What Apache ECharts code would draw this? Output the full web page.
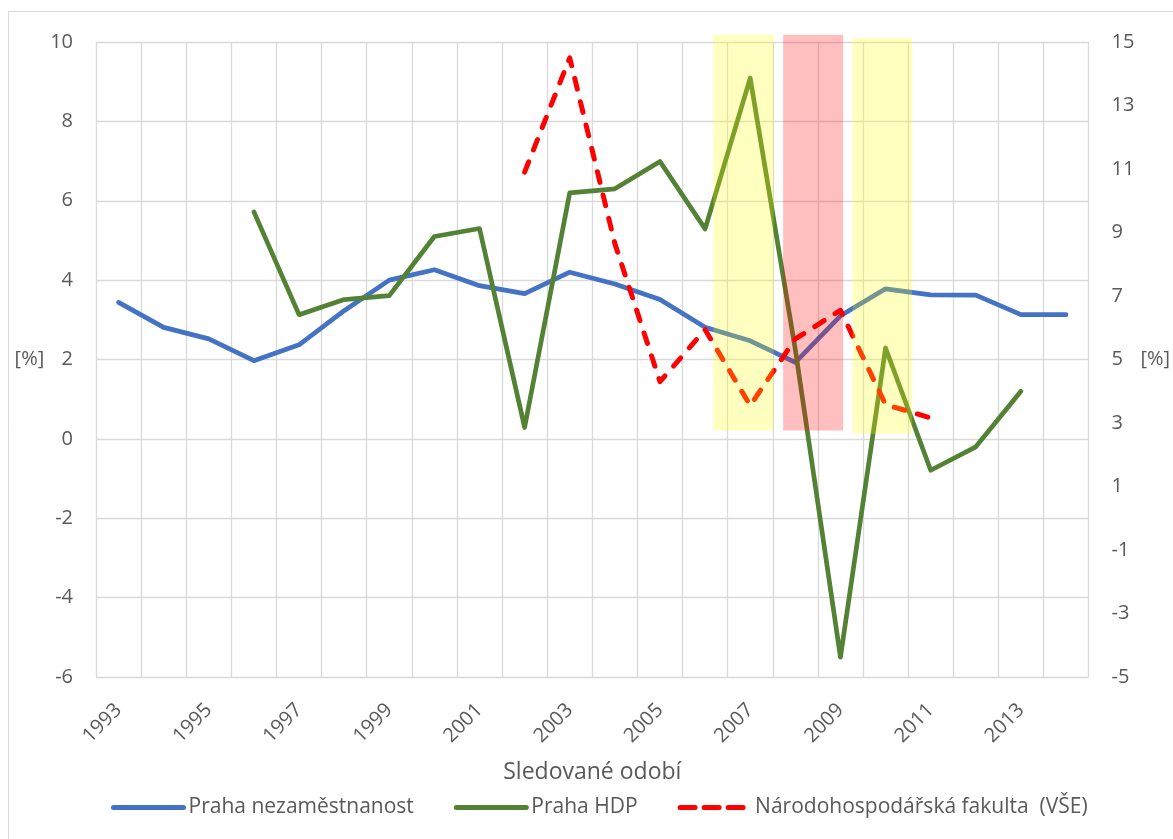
<!DOCTYPE html>
<html>
<head>
<meta charset="utf-8">
<script src="https://cdn.jsdelivr.net/npm/echarts@6/dist/echarts.min.js"></script>
<style>
  html, body { margin: 0; padding: 0; background: #ffffff; overflow: hidden; }
  #chart { width: 1173px; height: 839px; }
</style>
</head>
<body>
<div id="chart"></div>
<script>
// ---- data ----
const years = ['1993','1994','1995','1996','1997','1998','1999','2000','2001','2002','2003',
               '2004','2005','2006','2007','2008','2009','2010','2011','2012','2013','2014'];
const unemployment = [3.44, 2.81, 2.52, 1.97, 2.37, 3.23, 4.00, 4.26, 3.86, 3.66, 4.20,
                      3.90, 3.51, 2.81, 2.47, 1.93, 3.10, 3.78, 3.63, 3.62, 3.13, 3.13];
const gdp = [null, null, null, 5.72, 3.13, 3.51, 3.61, 5.10, 5.30, 0.29, 6.20,
             6.30, 6.99, 5.29, 9.09, 2.25, -5.50, 2.29, -0.79, -0.20, 1.20, null];
const vseForecast = [null, null, null, null, null, null, null, null, null, 10.9, 14.5,
                     8.65, 4.3, 5.94, 3.55, 5.65, 6.55, 3.58, 3.16, null, null, null];
// highlighted periods (in years along x, left-axis values along y)
const bandStart  = [2006.18, 2007.73, 2009.27];
const bandEnd    = [2007.52, 2009.06, 2010.59];
const bandTop    = [10.18, 10.18, 10.10];
const bandBottom = [0.21, 0.21, 0.13];
const seriesNames = ['Praha nezaměstnanost', 'Praha HDP', 'Národohospodářská fakulta  (VŠE)'];
const axisTitle = 'Sledované odobí';
const unitLabel = '[%]';

// ---- styles ----
const FONT = 'Open Sans';
const TXT = '#595959';
const GRID = '#d9d9d9';
const bandColors = ['rgba(255,255,0,0.25)', 'rgba(255,0,0,0.25)', 'rgba(255,255,0,0.25)'];

const bands = bandStart.map((s, i) => [s, bandEnd[i], bandTop[i], bandBottom[i]]);

const chart = echarts.init(document.getElementById('chart'), null, { renderer: 'canvas' });
chart.setOption({
  backgroundColor: '#ffffff',
  animation: false,
  textStyle: { fontFamily: FONT },
  graphic: [{
    type: 'rect', silent: true, z: -10,
    shape: { x: 8.5, y: 11.5, width: 1200, height: 900 },
    style: { fill: 'none', stroke: GRID, lineWidth: 1 }
  }],
  grid: { left: 96, top: 42, width: 997, height: 635, containLabel: false },
  legend: {
    data: [
      { name: seriesNames[0] },
      { name: seriesNames[1] },
      { name: seriesNames[2], lineStyle: { type: [15, 9] } }
    ],
    left: 106, top: 792,
    itemWidth: 70, itemHeight: 14, itemGap: 40,
    itemStyle: { opacity: 0 },
    lineStyle: { width: 5, cap: 'round' },
    textStyle: { fontFamily: FONT, fontSize: 21, color: TXT }
  },
  xAxis: [{
    type: 'category',
    data: years,
    boundaryGap: true,
    name: axisTitle,
    nameLocation: 'middle',
    nameGap: 84,
    nameTextStyle: { fontFamily: FONT, fontSize: 23, color: TXT },
    axisLine: { show: false },
    axisTick: { show: false },
    axisLabel: { interval: 1, rotate: 45, margin: 30, fontFamily: FONT, fontSize: 20, color: TXT },
    splitLine: { show: true, interval: 0, lineStyle: { color: GRID, width: 1.3 } }
  }, {
    type: 'value', show: false, min: 1992.5, max: 2014.5
  }],
  yAxis: [{
    type: 'value', min: -6, max: 10, interval: 2,
    name: unitLabel, nameLocation: 'middle', nameRotate: 0, nameGap: 46,
    nameTextStyle: { fontFamily: FONT, fontSize: 20, color: TXT },
    axisLine: { show: false }, axisTick: { show: false },
    axisLabel: { margin: 23, fontFamily: FONT, fontSize: 20, color: TXT },
    splitLine: { show: true, lineStyle: { color: GRID, width: 1.3 } }
  }, {
    type: 'value', min: -5, max: 15, interval: 1, position: 'right',
    name: unitLabel, nameLocation: 'middle', nameRotate: 0, nameGap: 46,
    nameTextStyle: { fontFamily: FONT, fontSize: 20, color: TXT },
    axisLine: { show: false }, axisTick: { show: false },
    axisLabel: { margin: 23, fontFamily: FONT, fontSize: 20, color: TXT,
                 formatter: v => (Math.abs(v) % 2 === 1 ? String(v) : '') },
    splitLine: { show: false }
  }],
  series: [{
    name: seriesNames[0], type: 'line', data: unemployment,
    symbol: 'none', showSymbol: false, connectNulls: false,
    lineStyle: { color: '#4472C4', width: 4.7, join: 'round', cap: 'round' },
    itemStyle: { color: '#4472C4' }, z: 2
  }, {
    name: seriesNames[1], type: 'line', data: gdp,
    symbol: 'none', showSymbol: false, connectNulls: false,
    lineStyle: { color: '#548235', width: 4.7, join: 'round', cap: 'round' },
    itemStyle: { color: '#548235' }, z: 2
  }, {
    name: seriesNames[2], type: 'line', data: vseForecast, yAxisIndex: 1,
    symbol: 'none', showSymbol: false, connectNulls: false,
    lineStyle: { color: '#FF0000', width: 5, type: [11, 13], join: 'round', cap: 'round' },
    itemStyle: { color: '#FF0000' }, z: 2
  }, {
    name: 'bands', type: 'custom', xAxisIndex: 1, yAxisIndex: 0,
    data: bands, encode: { x: [0, 1], y: [2, 3] }, z: 5, silent: true, clip: false,
    renderItem: (params, api) => {
      const p0 = api.coord([api.value(0), api.value(2)]);
      const p1 = api.coord([api.value(1), api.value(3)]);
      return {
        type: 'rect',
        shape: { x: p0[0], y: p0[1], width: p1[0] - p0[0], height: p1[1] - p0[1] },
        style: { fill: bandColors[params.dataIndex] }
      };
    }
  }]
});
</script>
</body>
</html>
